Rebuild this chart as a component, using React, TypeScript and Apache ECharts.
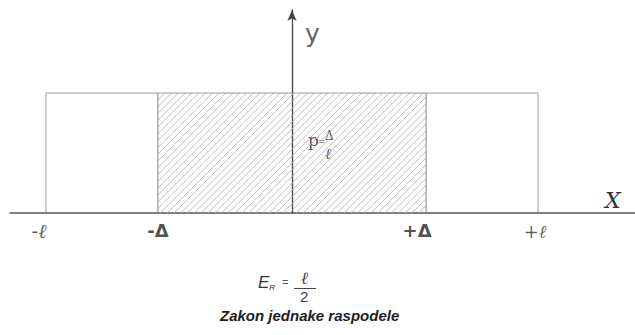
import React, { useEffect, useRef } from "react";
import * as echarts from "echarts";

// ---- data ----
const L = 1;
const DELTA = 0.545;
const DENSITY = 0.5;
const X_RANGE = [-1.146, 1.394];
const Y_RANGE = [0, 0.846];
const outerRect = [
  [-L, 0],
  [-L, DENSITY],
  [L, DENSITY],
  [L, 0],
];
const hatchRange = [[-DELTA, DELTA, DENSITY]];
const tickValues = [-L, -DELTA, DELTA, L];
const tickLabels = ["-ℓ", "-Δ", "+Δ", "+ℓ"];

export default function App() {
  const ref = useRef<HTMLDivElement>(null);
  useEffect(() => {
    document.body.style.margin = "0";
    const chart = echarts.init(ref.current!, null, { renderer: "svg" });
    const labelStyles = [
      { fontFamily: "DejaVu Serif", fontStyle: "italic", fontSize: 20, offset: [-7, 18], color: "#333" },
      { fontFamily: "DejaVu Sans", fontWeight: "bold", fontSize: 18, offset: [0, 17], color: "#222" },
      { fontFamily: "DejaVu Sans", fontWeight: "bold", fontSize: 18, offset: [-9, 17], color: "#222" },
      { fontFamily: "DejaVu Serif", fontStyle: "italic", fontSize: 18, offset: [-3, 18], color: "#333" },
    ];
    chart.setOption({
      animation: false,
      grid: { left: 10, right: 0, top: 10, bottom: 122 },
      xAxis: {
        type: "value",
        min: X_RANGE[0],
        max: X_RANGE[1],
        axisLine: { lineStyle: { color: "#555", width: 1.5 } },
        axisTick: { show: false },
        axisLabel: { show: false },
        splitLine: { show: false },
      },
      yAxis: {
        type: "value",
        min: Y_RANGE[0],
        max: Y_RANGE[1],
        axisLine: {
          show: true,
          onZero: true,
          symbol: ["none", "arrow"],
          symbolSize: [7, 11],
          lineStyle: { color: "#444", width: 1.3 },
        },
        axisTick: { show: false },
        axisLabel: { show: false },
        splitLine: { show: false },
      },
      series: [
        {
          type: "custom",
          data: hatchRange,
          silent: true,
          z: 1,
          renderItem: (params: any, api: any) => {
            const x0 = api.value(0);
            const x1 = api.value(1);
            const h = api.value(2);
            const pl = api.coord([x0, 0]);
            const pr = api.coord([x1, h]);
            const Lx = pl[0], B = pl[1], Rx = pr[0], T = pr[1];
            const H = B - T;
            const step = 6.8;
            const children: any[] = [];
            for (let c = Lx - H; c < Rx; c += step) {
              const s0 = Math.max(0, Lx - c);
              const s1 = Math.min(H, Rx - c);
              if (s1 <= s0) continue;
              children.push({
                type: "line",
                shape: { x1: c + s0, y1: B - s0, x2: c + s1, y2: B - s1 },
                style: { stroke: "#b4b4b4", lineWidth: 0.9 },
              });
            }
            children.push({
              type: "line",
              shape: { x1: Lx, y1: B, x2: Lx, y2: T },
              style: { stroke: "#888", lineWidth: 1 },
            });
            children.push({
              type: "line",
              shape: { x1: Rx, y1: B, x2: Rx, y2: T },
              style: { stroke: "#888", lineWidth: 1 },
            });
            return { type: "group", children };
          },
        },
        {
          type: "line",
          data: outerRect,
          showSymbol: false,
          silent: true,
          z: 2,
          lineStyle: { color: "#999", width: 1 },
        },
        {
          type: "scatter",
          symbolSize: 0,
          silent: true,
          data: tickValues.map((v, i) => ({
            value: [v, 0],
            label: {
              show: true,
              position: "inside",
              formatter: tickLabels[i],
              ...labelStyles[i],
            },
          })),
        },
      ],
      graphic: [
        {
          type: "text",
          left: 305,
          top: 21,
          style: { text: "y", fontFamily: "DejaVu Sans", fontSize: 25, fill: "#666" },
        },
        {
          type: "text",
          left: 605,
          top: 189,
          style: { text: "X", fontFamily: "DejaVu Serif", fontStyle: "italic", fontSize: 22, fill: "#333" },
        },
        {
          type: "text",
          left: 308,
          top: 131,
          style: { text: "p", fontFamily: "DejaVu Serif", fontSize: 17, fill: "#555" },
        },
        {
          type: "text",
          left: 318,
          top: 136,
          style: { text: "=", fontFamily: "DejaVu Sans", fontSize: 9, fill: "#555" },
        },
        {
          type: "text",
          left: 325,
          top: 130,
          style: { text: "Δ", fontFamily: "DejaVu Serif", fontSize: 12, fill: "#555" },
        },
        {
          type: "text",
          left: 325,
          top: 146,
          style: { text: "ℓ", fontFamily: "DejaVu Serif", fontStyle: "italic", fontSize: 15, fill: "#555" },
        },
        {
          type: "text",
          left: 258,
          top: 274,
          style: {
            text: "{e|E}{r|R}",
            rich: {
              e: { fontFamily: "Liberation Sans", fontStyle: "italic", fontSize: 17, fill: "#333", verticalAlign: "bottom" },
              r: { fontFamily: "Liberation Sans", fontStyle: "italic", fontSize: 8, fill: "#333", verticalAlign: "bottom" },
            },
          },
        },
        {
          type: "text",
          left: 282,
          top: 276,
          style: { text: "=", fontFamily: "Liberation Sans", fontSize: 11, fill: "#555" },
        },
        {
          type: "text",
          left: 301,
          top: 269,
          style: { text: "ℓ", fontFamily: "DejaVu Serif", fontStyle: "italic", fontSize: 17, fill: "#444" },
        },
        {
          type: "line",
          shape: { x1: 294, y1: 288.5, x2: 316, y2: 288.5 },
          style: { stroke: "#444", lineWidth: 1 },
        },
        {
          type: "text",
          left: 300,
          top: 289,
          style: { text: "2", fontFamily: "Liberation Sans", fontSize: 15, fill: "#444" },
        },
        {
          type: "text",
          left: 220,
          top: 308,
          style: {
            text: "Zakon jednake raspodele",
            fontFamily: "Liberation Sans",
            fontStyle: "italic",
            fontWeight: "bold",
            fontSize: 15,
            fill: "#222",
          },
        },
      ],
    });
    return () => chart.dispose();
  }, []);
  return <div ref={ref} style={{ width: 635, height: 335 }} />;
}
